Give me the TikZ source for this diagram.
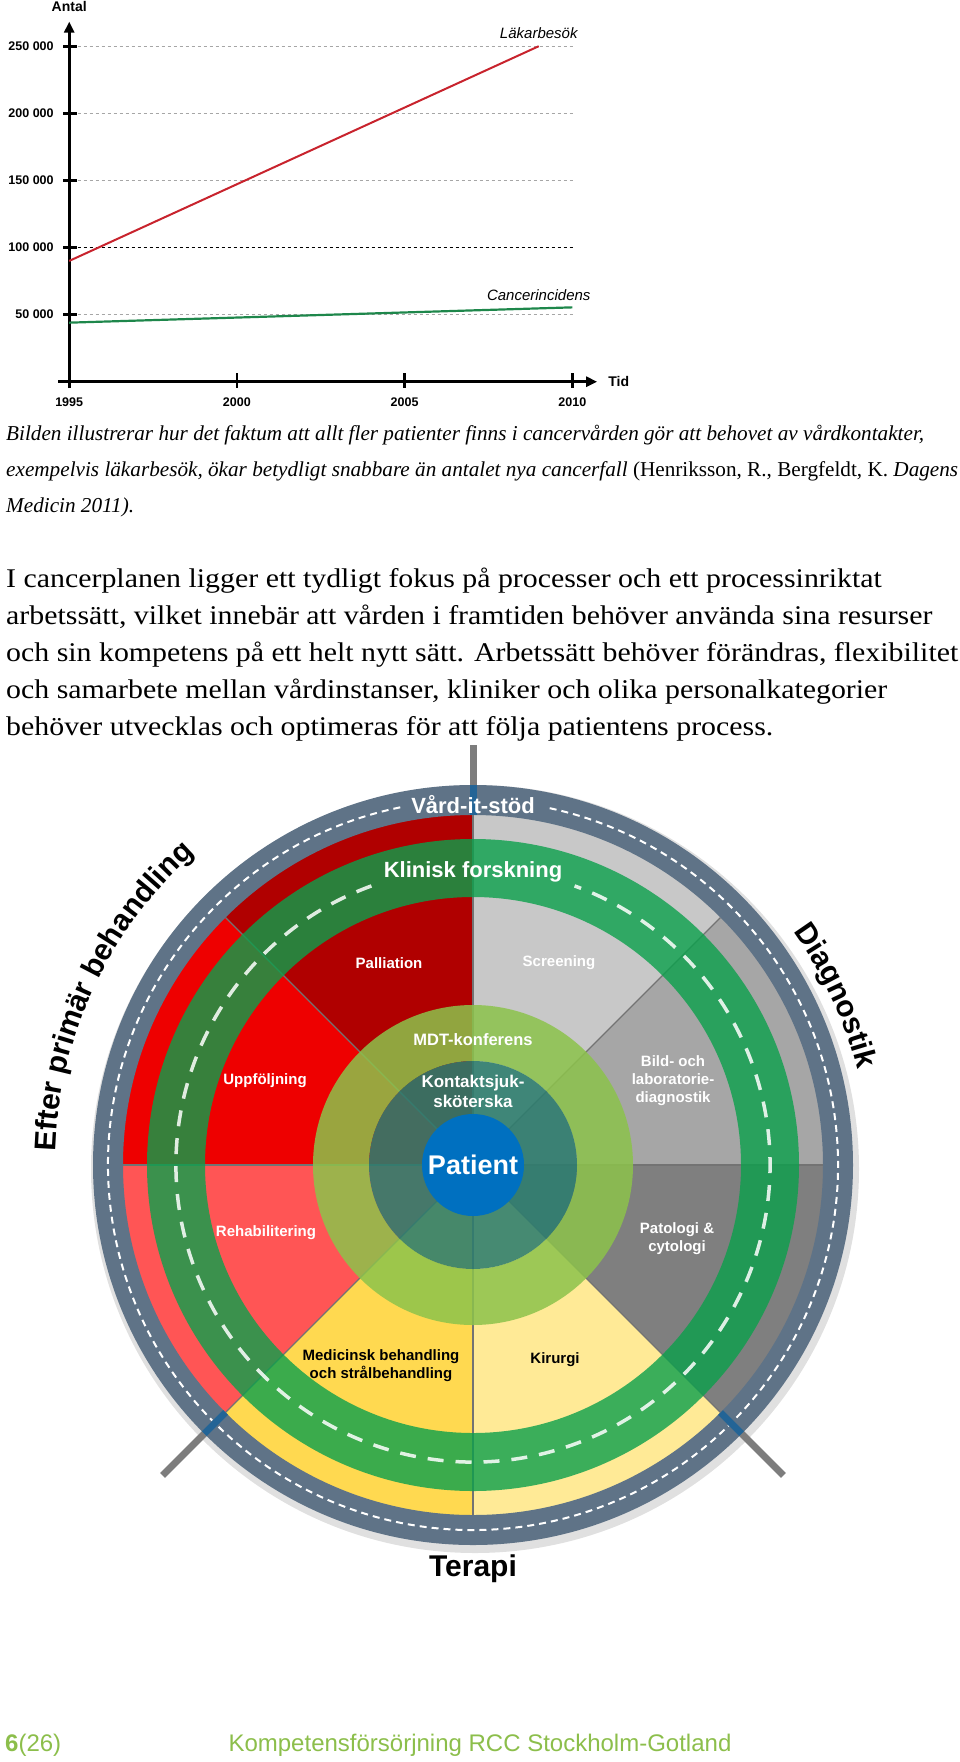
\documentclass[tikz,border=0pt]{standalone}
\usepackage{fontspec}
\setmainfont{Liberation Serif}
\setsansfont{Liberation Sans}
\usetikzlibrary{arrows.meta,decorations.text}

\definecolor{lakred}{RGB}{200,35,45}
\definecolor{incgreen}{RGB}{30,135,75}
\definecolor{pallred}{RGB}{176,0,0}
\definecolor{uppred}{RGB}{238,0,0}
\definecolor{rehabred}{RGB}{255,85,85}
\definecolor{medyellow}{RGB}{255,217,80}
\definecolor{kiryellow}{RGB}{255,234,150}
\definecolor{patgray}{RGB}{127,127,127}
\definecolor{bildgray}{RGB}{166,166,166}
\definecolor{screengray}{RGB}{200,200,200}
\definecolor{forskgreen}{RGB}{10,160,75}
\definecolor{mdtgreen}{RGB}{140,195,75}
\definecolor{kontaktteal}{RGB}{45,125,110}
\definecolor{patientblue}{RGB}{0,112,192}
\definecolor{roadgray}{RGB}{95,115,135}
\definecolor{stickgray}{RGB}{125,125,125}
\definecolor{stickblue}{RGB}{35,100,150}
\definecolor{footgreen}{RGB}{140,190,75}

\tikzset{
  gridline/.style={gray!70, line width=0.8pt, dash pattern=on 3pt off 3pt},
  axisline/.style={line width=2.6pt, -{Triangle[length=11pt,width=10pt]}},
  tickmark/.style={line width=2.6pt},
  ticklabel/.style={font=\sffamily\bfseries\fontsize{12.5}{14}\selectfont},
  serieslabel/.style={font=\sffamily\itshape\fontsize{15}{17}\selectfont},
  sectorlabel/.style={font=\sffamily\bfseries\fontsize{15}{18}\selectfont, align=center, inner sep=0pt},
  whitelabel/.style={font=\sffamily\bfseries, text=white, inner sep=1pt},
  roadline/.style={white, line width=2pt, dash pattern=on 7pt off 5pt},
  forskline/.style={white, opacity=0.85, line width=3.5pt, dash pattern=on 16pt off 12pt},
  sectorline/.style={gray!90!black, line width=1.3pt},
  stick/.style={stickgray, line width=7pt},
  phasetext/.style={font=\sffamily\bfseries\fontsize{30}{32}\selectfont}
}

\begin{document}
\begin{tikzpicture}[x=1pt,y=1pt]
\useasboundingbox (0,0) rectangle (960,-1762);

% --- diagram: lakarbesok och cancerincidens ---
\begin{scope}[shift={(69.2,-381.7)}, x=33.54pt, y=1.342pt]
  % gridlines:
  \foreach \v in {50,150,200,250}
    \draw[gridline] (0.25,\v) -- (15.03,\v);
  \draw[gridline, black, line width=1.3pt] (0.25,100) -- (15.03,100);
  % axes:
  \draw[axisline] (-0.32,0) -- (15.74,0);
  \draw[axisline] (0,-4.7) -- (0,268.3);
  \node[font=\sffamily\bfseries\fontsize{14}{16}\selectfont] (antal) at (0,279.4) {Antal};
  \node[font=\sffamily\bfseries\fontsize{14}{16}\selectfont, anchor=west] (tid) at (15.97,0) {Tid};
  % ticks:
  \foreach \v/\t in {50/50 000,100/100 000,150/150 000,200/200 000,250/250 000} {
    \draw[tickmark] ([xshift=-6pt]0,\v) -- ([xshift=8pt]0,\v);
    \node[ticklabel, anchor=east] (ylab\v) at ([xshift=-12pt]0,\v) {\t};
  }
  \foreach \x/\yr in {0/1995,5/2000,10/2005,15/2010} {
    \draw[tickmark] ([yshift=-6pt]\x,0) -- ([yshift=9pt]\x,0);
    \node[ticklabel] (xlab\yr) at ([yshift=-20pt]\x,0) {\yr};
  }
  % series:
  \draw[lakred, line width=2pt] (0,90) -- (14,250);
  \draw[incgreen, line width=2.2pt] (0,44) -- (15,55.4);
  \node[serieslabel] (lakarbesok) at (14,260) {Läkarbesök};
  \node[serieslabel] (incidens) at (14,64.6) {Cancerincidens};
\end{scope}

% --- texts ---
\node[anchor=west, align=left, inner sep=0pt, font=\itshape\fontsize{21.2}{36}\selectfont] (caption) at (6,-471)
  {Bilden illustrerar hur det faktum att allt fler patienter finns i cancervården gör att behovet av vårdkontakter,\\
   exempelvis läkarbesök, ökar betydligt snabbare än antalet nya cancerfall \textup{(Henriksson, R., Bergfeldt, K.} Dagens\\
   Medicin 2011).};
\node[anchor=west, align=left, inner sep=0pt, xscale=1.106, transform shape,
      font=\fontsize{27}{37}\selectfont] (bodytext) at (6,-655)
  {I cancerplanen ligger ett tydligt fokus på processer och ett processinriktat\\
   arbetssätt, vilket innebär att vården i framtiden behöver använda sina resurser\\
   och sin kompetens på ett helt nytt sätt. Arbetssätt behöver förändras, flexibilitet\\
   och samarbete mellan vårdinstanser, kliniker och olika personalkategorier\\
   behöver utvecklas och optimeras för att följa patientens process.};

% --- processhjulet ---
\begin{scope}[shift={(473,-1165)}]
  % shadow:
  \fill[black, opacity=0.12] (2,-4) circle (384);
  % sectors:
  \foreach \a/\col in {0/bildgray,45/screengray,90/pallred,135/uppred,180/rehabred,225/medyellow,270/kiryellow,315/patgray}
    \fill[\col] (0,0) -- (\a:352) arc[start angle=\a, end angle=\a+45, radius=352] -- cycle;
  \foreach \a in {0,45,...,315}
    \draw[sectorline] (0,0) -- (\a:350);
  % klinisk forskning:
  \fill[forskgreen, opacity=0.8, even odd rule] (0,0) circle (326) (0,0) circle (268);
  \draw[forskline] (110:297) arc[start angle=110, end angle=430, radius=297];
  % mdt and kontaktsjukskoterska:
  \fill[mdtgreen, opacity=0.85, even odd rule] (0,0) circle (160) (0,0) circle (104);
  \fill[kontaktteal, opacity=0.88] (0,0) circle (104);
  \node[circle, fill=patientblue, minimum size=102pt, inner sep=0pt, whitelabel,
        font=\sffamily\bfseries\fontsize{27}{29}\selectfont] (patient) at (0,0) {Patient};
  % vard-it-stod:
  \fill[roadgray, even odd rule] (0,0) circle (380) (0,0) circle (350);
  \draw[roadline] (101.5:365) arc[start angle=101.5, end angle=438.5, radius=365];
  % sticks:
  \draw[stick] (90:350) -- (90:420);
  \draw[stick] (225:350) -- (225:439);
  \draw[stick] (315:350) -- (315:439);
  \foreach \a in {90,225,315}
    \draw[stickblue, line width=7pt] (\a:350) -- (\a:380);
  % labels:
  \node[whitelabel, font=\sffamily\bfseries\fontsize{22}{24}\selectfont] (vardit) at (0,360) {Vård-it-stöd};
  \node[whitelabel, font=\sffamily\bfseries\fontsize{22}{24}\selectfont] (klinisk) at (0,293) {Klinisk forskning};
  \node[whitelabel, font=\sffamily\bfseries\fontsize{16.5}{19}\selectfont] (mdt) at (0,125) {MDT-konferens};
  \node[whitelabel, align=center, font=\sffamily\bfseries\fontsize{17}{20}\selectfont] (kontakt) at (0,74) {Kontaktsjuk-\\sköterska};
  \node[sectorlabel, text=white] (palliation) at (-84,202) {Palliation};
  \node[sectorlabel, text=white] (screening) at (86,202) {Screening};
  \node[sectorlabel, text=white] (uppfoljning) at (-208,84) {Uppföljning};
  \node[sectorlabel, text=white] (bild) at (200,84) {Bild- och\\laboratorie-\\diagnostik};
  \node[sectorlabel, text=white] (rehab) at (-207,-68) {Rehabilitering};
  \node[sectorlabel, text=white] (patologi) at (204,-74) {Patologi \&\\cytologi};
  \node[sectorlabel, text=black] (medicinsk) at (-92,-201) {Medicinsk behandling\\och strålbehandling};
  \node[sectorlabel, text=black] (kirurgi) at (82,-195) {Kirurgi};
  % phases:
  \path[decorate, decoration={text along path, text align=center,
        text={|\sffamily\bfseries\fontsize{30}{32}\selectfont|Efter primär behandling}}]
    (185:418) arc[start angle=185, end angle=125, radius=418];
  \path[decorate, decoration={text along path, text align=center,
        text={|\sffamily\bfseries\fontsize{30}{32}\selectfont|Diagnostik}}]
    (45:396) arc[start angle=45, end angle=5, radius=396];
  \node[phasetext] (terapi) at (0,-404) {Terapi};
\end{scope}

% --- footer ---
\node[anchor=west, inner sep=0pt, text=footgreen, font=\sffamily\fontsize{24}{26}\selectfont] (sidnr) at (5,-1745) {\textbf{6}(26)};
\node[text=footgreen, font=\sffamily\fontsize{24}{26}\selectfont] (sidfot) at (480,-1745) {Kompetensförsörjning RCC Stockholm-Gotland};
\end{tikzpicture}
\end{document}
